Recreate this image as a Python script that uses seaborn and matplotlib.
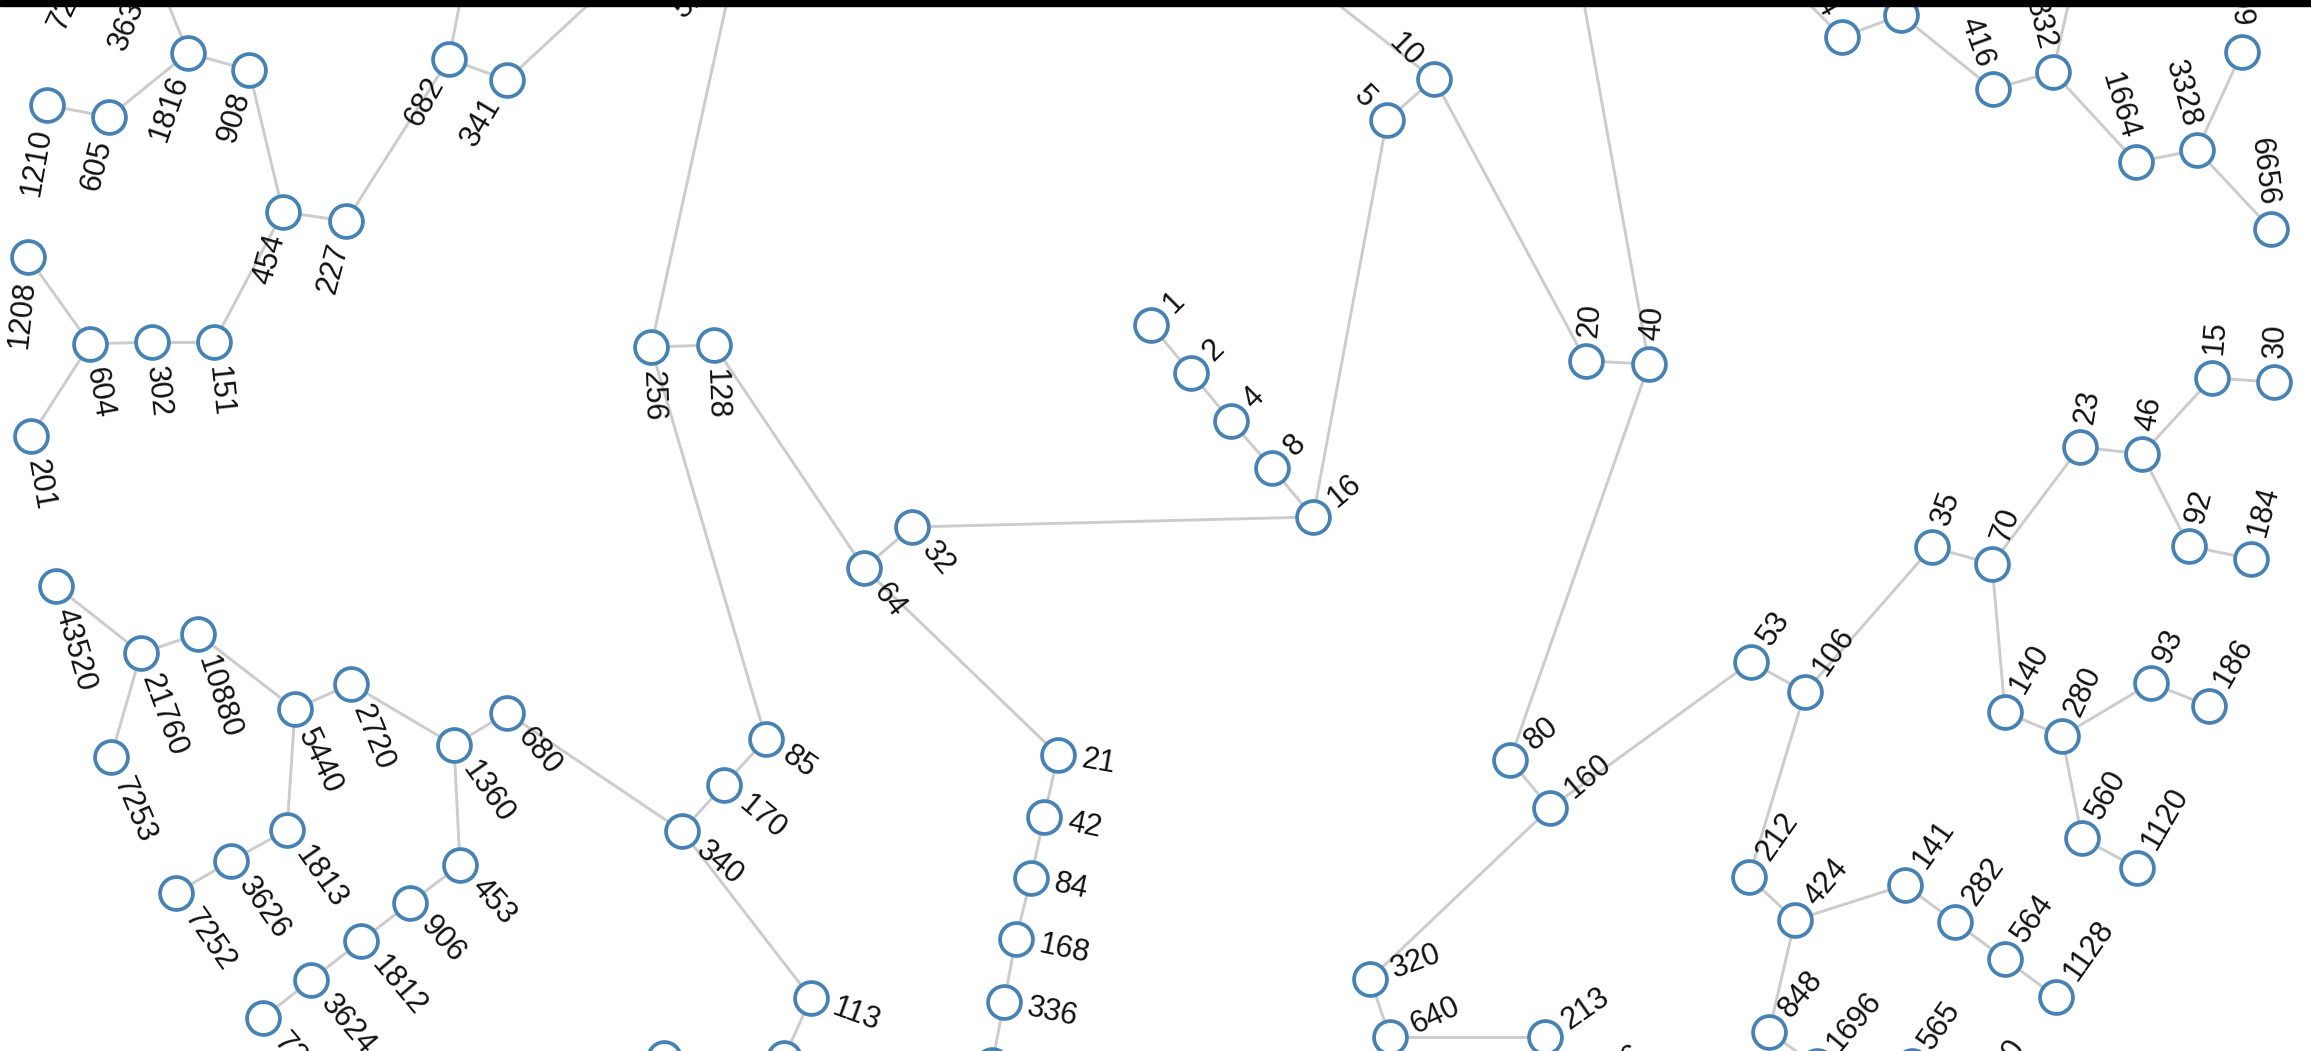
import numpy as np
import pandas as pd
import matplotlib
matplotlib.use("Agg")
import matplotlib.pyplot as plt
from matplotlib.patches import Rectangle
import seaborn as sns

# Collatz graph: node value, pixel position in the layout and the direction of its label (degrees, screen)
node_label = [
    1816, 908, 1210, 605, 454, 227, 682, 341, 1208, 604, 302, 151, 201, 3632, 7264, 1364, 1024, 512,
    256, 128, 64, 32, 85, 170, 340, 113, 226, 75, 21, 42, 84, 168, 336, 672,
    43520, 21760, 10880, 7253, 5440, 2720, 1360, 680, 1813, 3626, 7252, 453, 906, 1812, 3624, 7248,
    1, 2, 4, 8, 16, 5, 10, 3, 20, 40, 13, 80, 160, 320, 640, 213, 426,
    53, 106, 35, 70, 23, 46, 15, 30, 92, 184, 140, 280, 93, 186, 560, 1120,
    212, 424, 141, 282, 564, 1128, 848, 1696, 565, 1130,
    104, 52, 208, 416, 832, 277, 1664, 3328, 1109, 6656,
]
node_x = [
    188, 249, 47, 109, 283, 346, 449, 507, 28, 90, 152, 214, 31, 152, 95, 472, 658, 735,
    651, 714, 864, 912, 766, 724, 682, 811, 784, 664, 1058, 1044, 1031, 1016, 1004, 992,
    56, 141, 198, 111, 295, 351, 454, 507, 287, 231, 176, 460, 410, 361, 311, 263,
    1151, 1191, 1231, 1272, 1313, 1387, 1434, 1300, 1586, 1649, 1578, 1510, 1550, 1370, 1390, 1545, 1578,
    1751, 1805, 1932, 1992, 2080, 2142, 2212, 2274, 2189, 2251, 2005, 2062, 2151, 2209, 2082, 2137,
    1749, 1795, 1905, 1955, 2005, 2056, 1769, 1817, 1912, 1967,
    1842, 1790, 1901, 1993, 2053, 2075, 2136, 2197, 2242, 2271,
]
node_y = [
    53, 70, 105, 117, 212, 221, 59, 80, 257, 344, 342, 342, 436, -36, -55, -60, -60, -35,
    347, 345, 568, 527, 739, 785, 831, 998, 1058, 1058, 755, 817, 878, 939, 1002, 1065,
    586, 653, 634, 757, 709, 684, 745, 713, 830, 861, 893, 865, 903, 941, 980, 1018,
    325, 373, 421, 468, 517, 120, 79, -25, 361, 364, -30, 760, 808, 979, 1037, 1037, 1095,
    662, 692, 547, 564, 447, 454, 378, 382, 546, 559, 712, 736, 683, 706, 838, 868,
    877, 920, 885, 922, 959, 997, 1032, 1066, 1066, 1115,
    37, -15, 15, 89, 72, -25, 162, 150, 52, 229,
]
label_angle = [
    109, 107, 100, 104, 106, 105, 119, 121, 96, 80, 84, 84, 80, 112, 115, -90, -90, 140,
    88, 88, 52, 50, 35, 40, 40, 20, 20, 20, 10, 12, 12, 12, 12, 12,
    74, 70, 72, 67, 65, 68, 55, 50, 55, 55, 55, 48, 48, 50, 50, 50,
    -45, -45, -45, -45, -40, -135, -135, -135, -85, -85, -85, -40, -40, -20, -25, -35, -35,
    -55, -55, -70, -70, -80, -80, -85, -88, -75, -75, -60, -65, -65, -60, -60, -60,
    -55, -50, -55, -55, -55, -55, -50, -50, -55, -55,
    -120, -120, -95, -110, -105, -100, -107, -105, -95, -97,
]

edges = [
    (1816, 908), (908, 454), (454, 227), (227, 682), (682, 341), (341, 1024), (682, 1364),
    (605, 1816), (1210, 605), (1816, 3632), (3632, 7264), (1208, 604), (604, 302), (302, 151),
    (151, 454), (201, 604),
    (512, 256), (256, 128), (128, 64), (64, 32), (32, 16), (16, 8), (8, 4), (4, 2), (2, 1),
    (16, 5), (5, 10), (10, 3), (10, 20), (20, 40), (40, 13), (40, 80), (80, 160), (160, 320),
    (320, 640), (640, 213), (213, 426), (160, 53), (53, 106), (106, 35), (35, 70), (70, 23),
    (23, 46), (46, 15), (15, 30), (46, 92), (92, 184), (70, 140), (140, 280), (280, 93),
    (93, 186), (280, 560), (560, 1120), (106, 212), (212, 424), (424, 141), (141, 282),
    (282, 564), (564, 1128), (424, 848), (848, 1696), (1696, 565), (565, 1130),
    (64, 21), (21, 42), (42, 84), (84, 168), (168, 336), (336, 672),
    (256, 85), (85, 170), (170, 340), (340, 113), (113, 226), (340, 680), (680, 1360),
    (1360, 2720), (2720, 5440), (5440, 10880), (10880, 21760), (21760, 43520), (21760, 7253),
    (5440, 1813), (1813, 3626), (3626, 7252), (1360, 453), (453, 906), (906, 1812),
    (1812, 3624), (3624, 7248),
    (104, 52), (104, 208), (208, 416), (416, 832), (832, 277), (832, 1664), (1664, 3328),
    (3328, 1109), (3328, 6656),
]

W, H = 2311, 1051
nodes = pd.DataFrame({"n": node_label, "x": node_x, "y": node_y, "angle": label_angle}).set_index("n")

rows = []
for i, (a, b) in enumerate(edges):
    for n in (a, b):
        rows.append({"edge": i, "x": nodes.loc[n, "x"], "y": nodes.loc[n, "y"]})
links = pd.DataFrame(rows)

sns.set_theme(style="white")
plt.rcParams["font.family"] = ["Liberation Sans", "DejaVu Sans"]

fig = plt.figure(figsize=(W / 100, H / 100), dpi=100)
ax = fig.add_axes([0, 0, 1, 1])

sns.lineplot(data=links, x="x", y="y", units="edge", estimator=None, sort=False,
             color="#cccccc", linewidth=2.1, legend=False, ax=ax, zorder=1)
sns.scatterplot(data=nodes.reset_index(), x="x", y="y", s=560, color="white",
                edgecolor="#4682b4", linewidth=2.7, legend=False, ax=ax, zorder=2)

# labels sit on a ray out of the node, flipped on the left half so they stay readable
r = 24
for n, row in nodes.iterrows():
    t = np.deg2rad(row["angle"])
    tx, ty = row["x"] + r * np.cos(t), row["y"] + r * np.sin(t)
    if np.cos(t) >= -1e-9:
        rot, ha = -row["angle"], "left"
    else:
        rot, ha = -(row["angle"] + 180), "right"
    ax.text(tx, ty, str(n), rotation=rot, rotation_mode="anchor", ha=ha, va="center",
            fontsize=22, color="#111111", zorder=3, clip_on=True)

ax.add_patch(Rectangle((0, 0), W, 6, color="black", zorder=5))
ax.set_xlim(0, W)
ax.set_ylim(H, 0)
ax.set_axis_off()

fig.savefig("out.png", dpi=100, facecolor="white")
